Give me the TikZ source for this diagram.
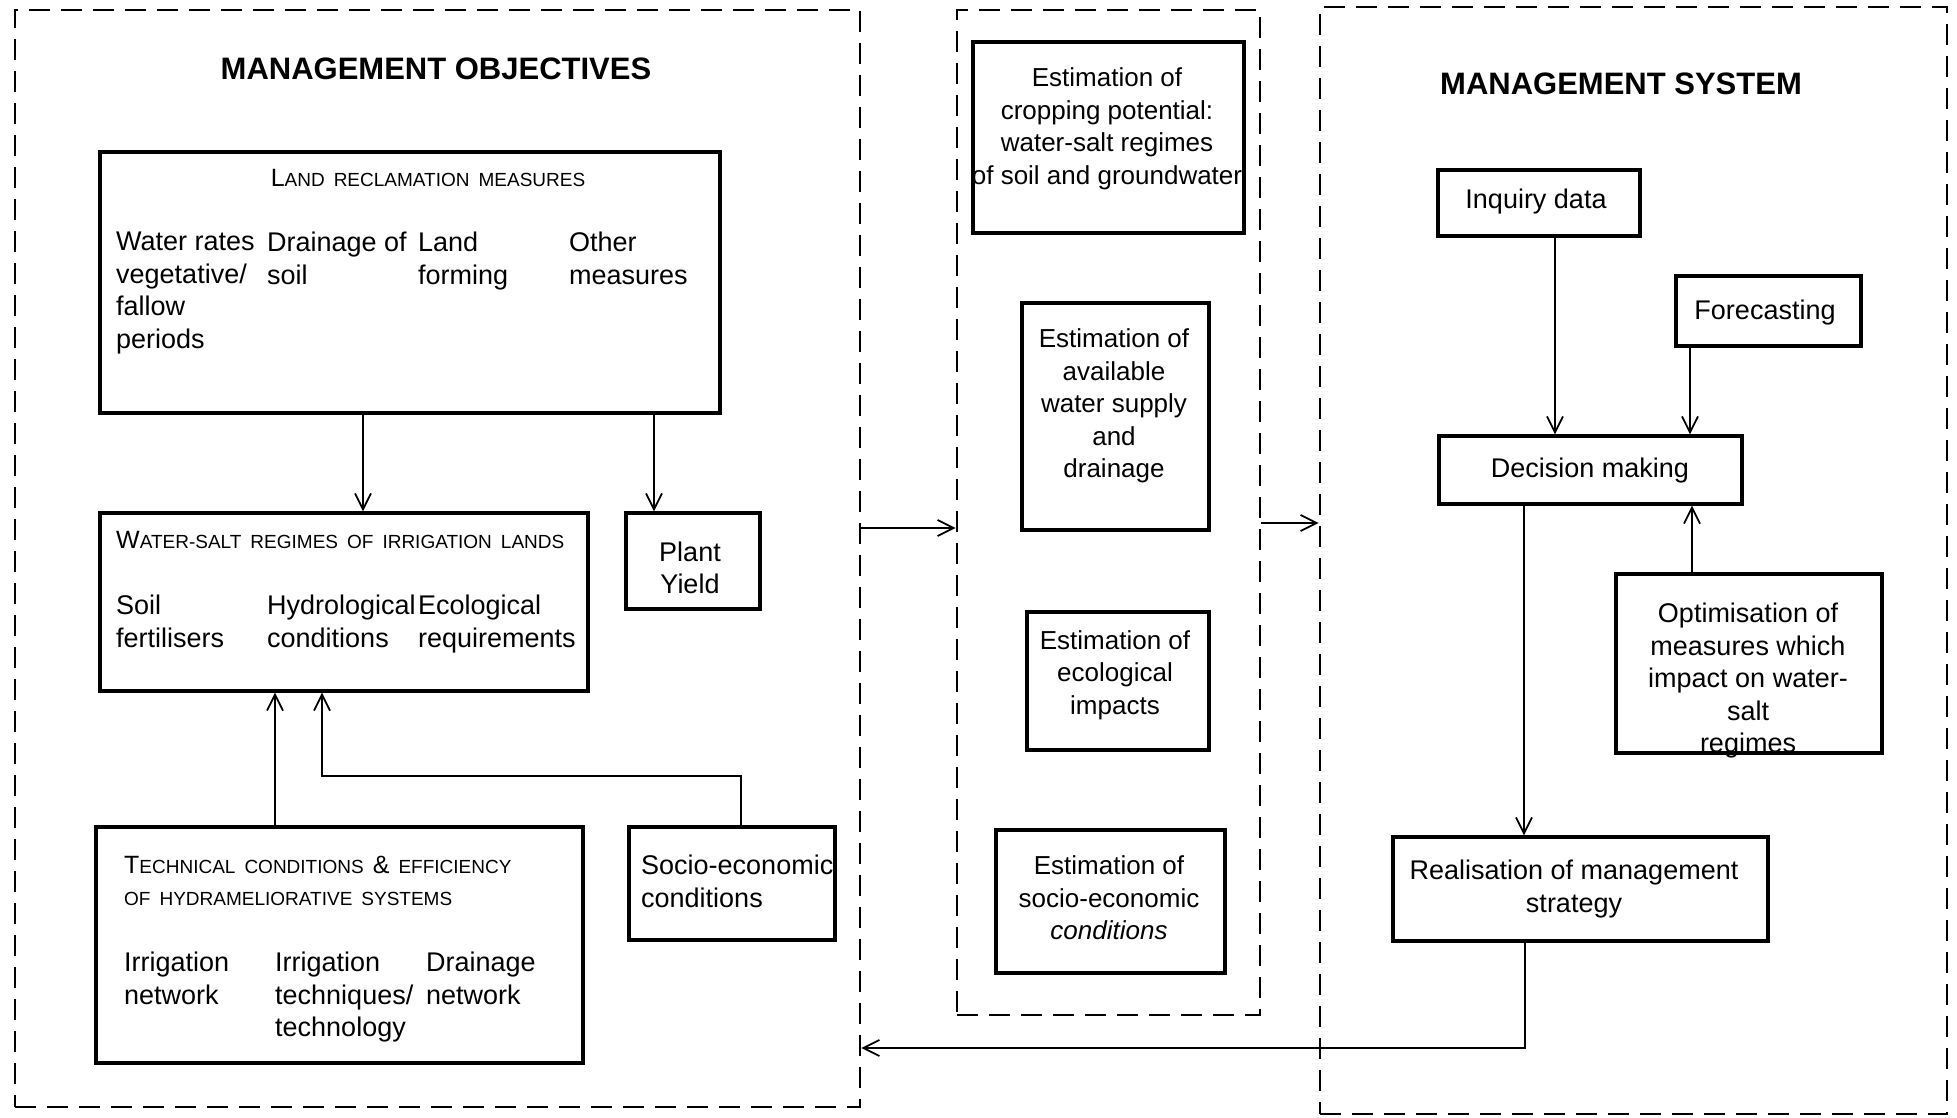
\documentclass[tikz,border=0pt]{standalone}
\usepackage{fontspec}
\setmainfont{Liberation Sans}
\usetikzlibrary{arrows.meta,fit}
\newcommand\fs[2]{\fontsize{#1}{#2}\selectfont}
\newcommand\smc[1]{{\fs{19}{30}\spaceskip=9pt plus 2pt\relax #1}}
\newcommand\bigc[1]{{\fs{25}{30}#1}}
\begin{document}
\begin{tikzpicture}[x=1pt,y=-1pt,
  box/.style={draw, line width=3.2pt, inner sep=0pt},
  frame/.style={draw, line width=2.8pt, dash pattern=on 21pt off 11pt, inner sep=0pt},
  txt/.style={inner sep=0pt, font=\fs{27}{32.5}, align=left},
  ctxt/.style={inner sep=0pt, font=\fs{27}{32.5}, align=center},
  mtxt/.style={inner sep=0pt, font=\fs{26}{32.5}, align=center},
  ttl/.style={inner sep=0pt, font=\fs{31}{36}\bfseries},
  arr/.style={line width=1.5pt, -{Straight Barb[length=16pt,width=16pt,line width=1.8pt]}},
  conn/.style={line width=1.5pt}
]
\useasboundingbox (0,0) rectangle (1957,1117);
% frames
\node[frame, fit={(15,10) (860,1107)}] (F1) {};
\node[frame, fit={(957,10) (1260,1015)}] (F2) {};
\node[frame, fit={(1320,7) (1947,1114)}] (F3) {};
% titles
\node[ttl] (T1) at (436,69) {MANAGEMENT OBJECTIVES};
\node[ttl] (T2) at (1621,84) {MANAGEMENT SYSTEM};
% land reclamation
\node[box, fit={(100,152) (720,413)}] (LR) {};
\node[txt, anchor=base] (LRt) at (428,186) {\bigc{L}\smc{AND RECLAMATION MEASURES}};
\node[txt, anchor=north west] (LR1) at (116,232) {Water rates\\vegetative/\\fallow\\periods};
\node[txt, anchor=north west] (LR2) at (267,232) {Drainage of\\soil};
\node[txt, anchor=north west] (LR3) at (418,232) {Land\\forming};
\node[txt, anchor=north west] (LR4) at (569,232) {Other\\measures};
% water-salt
\node[box, fit={(100,513) (588,691)}] (WS) {};
\node[txt, anchor=base west] (WSt) at (116,548) {\bigc{W}\smc{ATER-SALT REGIMES OF IRRIGATION LANDS}};
\node[txt, anchor=north west] (WS1) at (116,595) {Soil\\fertilisers};
\node[txt, anchor=north west] (WS2) at (267,595) {Hydrological\\conditions};
\node[txt, anchor=north west] (WS3) at (418,595) {Ecological\\requirements};
% plant yield
\node[box, fit={(626,513) (760,609)}] (PY) {};
\node[ctxt] (PYt) at (690,568) {Plant\\Yield};
% technical
\node[box, fit={(96,827) (583,1063)}] (TC) {};
\node[txt, anchor=base west] (TCt1) at (124,873) {\bigc{T}\smc{ECHNICAL CONDITIONS }\bigc{\&}\smc{ EFFICIENCY}};
\node[txt, anchor=base west] (TCt2) at (124,905) {\smc{OF HYDRAMELIORATIVE SYSTEMS}};
\node[txt, anchor=north west] (TC1) at (124,952) {Irrigation\\network};
\node[txt, anchor=north west] (TC2) at (275,952) {Irrigation\\techniques/\\technology};
\node[txt, anchor=north west] (TC3) at (426,952) {Drainage\\network};
% socio-economic
\node[box, fit={(629,827) (835,940)}] (SE) {};
\node[txt, anchor=north west] (SEt) at (641,855) {Socio-economic\\conditions};
% left arrows
\coordinate (a1) at (363,0);
\coordinate (a2) at (654,0);
\coordinate (a3) at (275,0);
\coordinate (a4) at (741,776);
\coordinate (a5) at (322,776);
\draw[arr] (LR.south -| a1) -- (WS.north -| a1);
\draw[arr] (LR.south -| a2) -- (PY.north -| a2);
\draw[arr] (TC.north -| a3) -- (WS.south -| a3);
\draw[arr] (SE.north -| a4) -- (a4) -- (a5) -- (WS.south -| a5);
% middle boxes
\node[box, fit={(973,42) (1244,233)}] (M1) {};
\node[mtxt] (M1t) at (1107,129) {Estimation of\\cropping potential:\\water-salt regimes\\of soil and groundwater};
\node[box, fit={(1022,303) (1209,530)}] (M2) {};
\node[mtxt] (M2t) at (1114,406) {Estimation of\\available\\water supply\\and\\drainage};
\node[box, fit={(1027,612) (1209,750)}] (M3) {};
\node[mtxt] (M3t) at (1115,675) {Estimation of\\ecological\\impacts};
\node[box, fit={(996,830) (1225,973)}] (M4) {};
\node[mtxt] (M4t) at (1109,898) {Estimation of\\socio-economic\\\textit{conditions}};
% frame arrows
\coordinate (b1) at (0,528);
\coordinate (b2) at (0,523);
\draw[arr] (F1.east |- b1) -- (F2.west |- b1);
\draw[arr] (F2.east |- b2) -- (F3.west |- b2);
% right boxes
\node[box, fit={(1438,170) (1640,236)}] (ID) {};
\node[ctxt] (IDt) at (1536,202) {Inquiry data};
\node[box, fit={(1676,276) (1861,346)}] (FC) {};
\node[ctxt] (FCt) at (1765,313) {Forecasting};
\node[box, fit={(1439,436) (1742,504)}] (DM) {};
\node[ctxt] (DMt) at (1590,471) {Decision making};
\node[box, fit={(1616,574) (1882,753)}] (OP) {};
\node[ctxt] (OPt) at (1748,681) {Optimisation of\\measures which\\impact on water-\\salt\\regimes};
\node[box, fit={(1393,837) (1768,941)}] (RS) {};
\node[ctxt] (RSt) at (1574,889) {Realisation of management\\strategy};
\coordinate (c1) at (1555,0);
\coordinate (c2) at (1690,0);
\coordinate (c3) at (1692,0);
\coordinate (c4) at (1524,0);
\coordinate (c5) at (1525,1048);
\draw[arr] (ID.south -| c1) -- (DM.north -| c1);
\draw[arr] (FC.south -| c2) -- (DM.north -| c2);
\draw[arr] (OP.north -| c3) -- (DM.south -| c3);
\draw[arr] (DM.south -| c4) -- (RS.north -| c4);
\draw[arr] (RS.south -| c5) -- (c5) -- (F1.east |- c5);
\end{tikzpicture}
\end{document}
